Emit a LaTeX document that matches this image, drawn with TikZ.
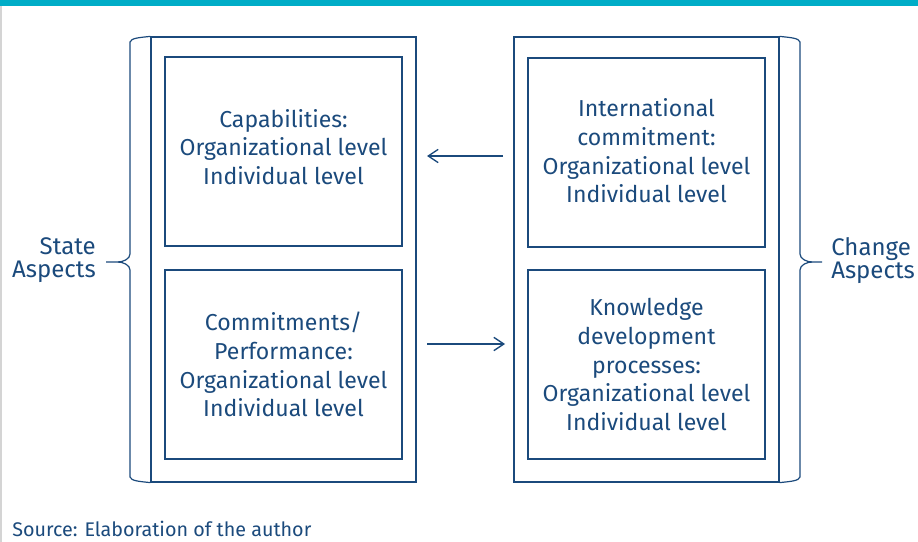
\documentclass[tikz,border=0pt]{standalone}
\usepackage{fontspec}
\setmainfont{Fira Sans}
\usetikzlibrary{arrows.meta}

\definecolor{navy}{RGB}{27,74,124}
\definecolor{teal}{RGB}{0,173,199}
\definecolor{edge}{RGB}{212,212,212}

\tikzset{
  outerbox/.style={draw=navy, line width=0.9pt, minimum width=198.75pt, minimum height=333.75pt, inner sep=0pt},
  aspectbox/.style={draw=navy, line width=1.1pt, minimum width=177.75pt, minimum height=141.75pt, inner sep=0pt},
  aspecttext/.style={align=center, text=navy, font=\fontsize{17.3}{21.6}\selectfont, inner sep=0pt},
  sidelabel/.style={text=navy, font=\fontsize{18}{17.2}\selectfont, inner sep=0pt},
  bracket/.style={draw=navy, line width=0.9pt},
  flow/.style={draw=navy, line width=1pt, -{Straight Barb[length=7.5pt,width=10pt,line width=1pt]}},
}

\begin{document}
\begin{tikzpicture}[x=0.75pt,y=0.75pt,yscale=-1,xscale=1]
\useasboundingbox (0,0) rectangle (918,542);

%top band and left rule
\fill[teal] (0,0) rectangle (918,6);
\draw[edge, line width=1.5pt] (0.8,6) -- (0.8,542);

%Shape: outer frames
\node[outerbox] (stateframe) at (283.5,259.5) {};
\node[outerbox] (changeframe) at (646.5,259.5) {};

%Shape: inner boxes
\node[aspectbox] (capab) at (283.5,151.5) {};
\node[aspectbox] (commit) at (283.5,364.5) {};
\node[aspectbox] (intl) at (646.5,152.5) {};
\node[aspectbox] (knowl) at (646.5,364.5) {};

% Text Node
\node[aspecttext] (capabtext) at ([yshift=-3.4pt]capab.center) {Capabilities:\\Organizational level\\Individual level};
% Text Node
\node[aspecttext] (committext) at (commit.center) {Commitments/\\Performance:\\Organizational level\\Individual level};
% Text Node
\node[aspecttext] (intltext) at ([yshift=-1.2pt]intl.center) {International\\commitment:\\Organizational level\\Individual level};
% Text Node
\node[aspecttext] (knowltext) at (knowl.center) {Knowledge\\development\\processes:\\Organizational level\\Individual level};

%Braces
\coordinate (statetip) at (106,262);
\coordinate (changetip) at (822,262);
\draw[bracket] (stateframe.north west) .. controls (140,37.5) and (131,38) .. (130,42)
  -- (130,254) .. controls (130,259) and (123,262) .. (118,262) -- (statetip);
\draw[bracket] (stateframe.south west) .. controls (140,481.5) and (131,481) .. (130,477)
  -- (130,270) .. controls (130,265) and (123,262) .. (118,262);
\draw[bracket] (changeframe.north east) .. controls (790,37.5) and (799,38) .. (800,42)
  -- (800,254) .. controls (800,259) and (807,262) .. (812,262) -- (changetip);
\draw[bracket] (changeframe.south east) .. controls (790,481.5) and (799,481) .. (800,477)
  -- (800,270) .. controls (800,265) and (807,262) .. (812,262);

% Text Node
\node[sidelabel, anchor=east, align=right] (statelbl) at (96,260.5) {State\\Aspects};
% Text Node
\node[sidelabel, anchor=west, align=left] (changelbl) at (831,260.5) {Change\\Aspects};

%Arrows between frames
\coordinate (a1) at (503,156);
\coordinate (a2) at (427,156);
\coordinate (b1) at (427,344);
\coordinate (b2) at (505,344);
\draw[flow] (a1) -- (a2);
\draw[flow] (b1) -- (b2);

% Text Node
\node[anchor=base west, text=navy, inner sep=0pt, font=\fontsize{14.8}{16}\selectfont] (source) at (12,536.5) {Source: Elaboration of the author};

\end{tikzpicture}
\end{document}
